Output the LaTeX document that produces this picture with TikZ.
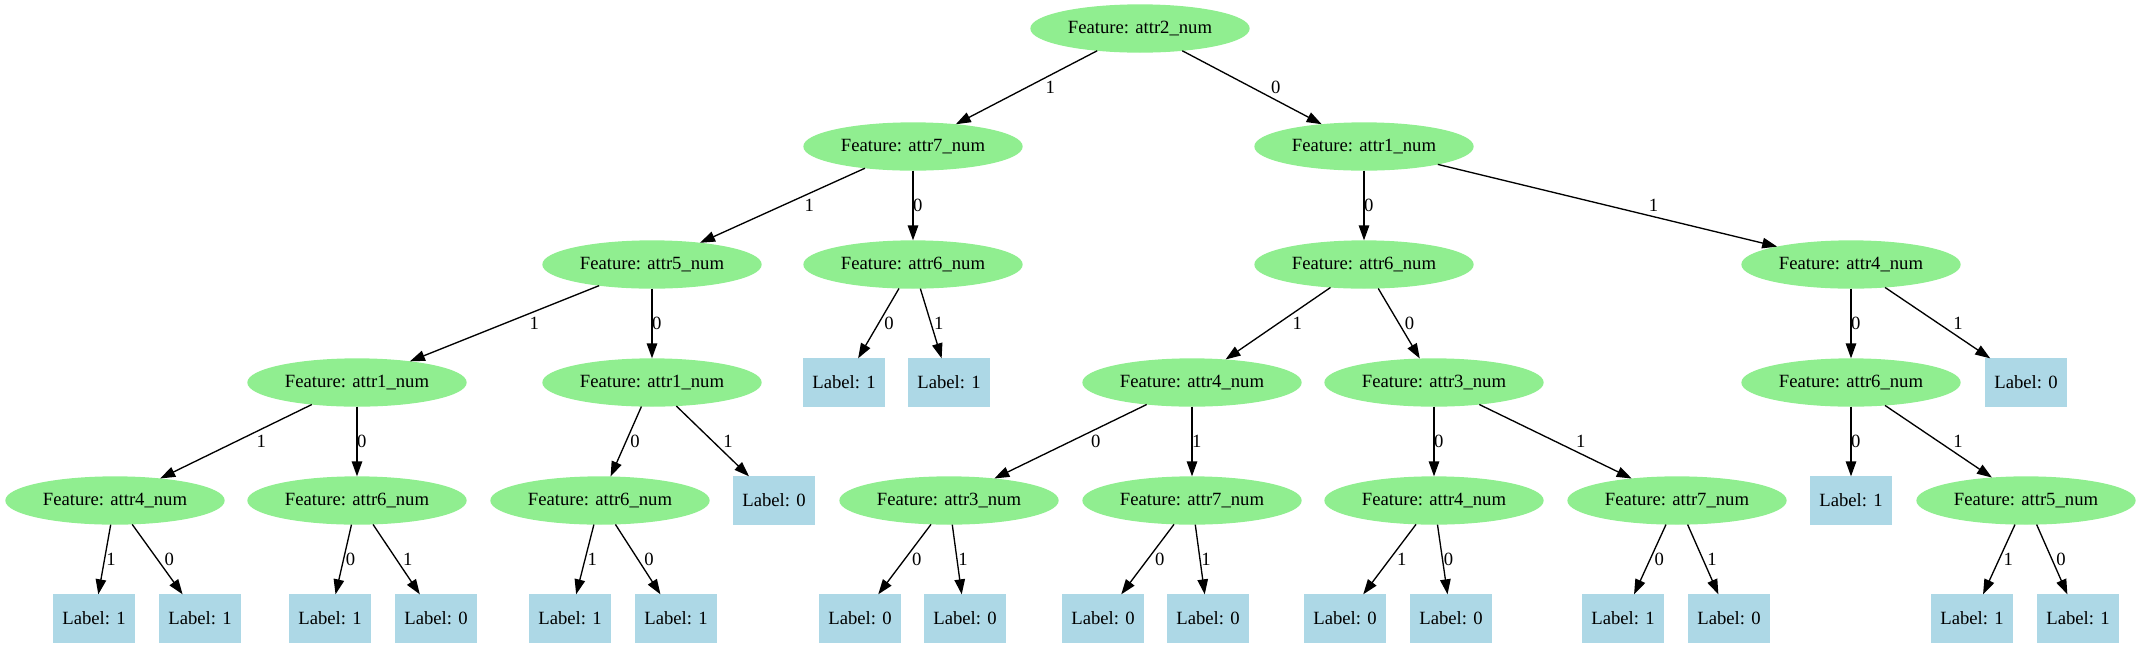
\documentclass[tikz,border=0pt]{standalone}
\usepackage{fontspec}
\setmainfont{Liberation Serif}
\usetikzlibrary{shapes.geometric,arrows.meta,calc}
\definecolor{lgreen}{HTML}{90EE90}
\definecolor{lblue}{HTML}{ADD8E6}
\tikzset{
  feat/.style={ellipse, fill=lgreen, draw=lgreen, line width=1.33pt, minimum width=218pt, minimum height=47pt, inner sep=0pt, font=\fontsize{18.67}{22}\selectfont},
  leaf/.style={rectangle, fill=lblue, draw=lblue, line width=1.33pt, minimum width=81.5pt, minimum height=47pt, inner sep=0pt, font=\fontsize{18.67}{22}\selectfont},
  edge/.style={draw=black, line width=1.33pt, -{Triangle[length=15pt,width=10.5pt]}},
  elab/.style={inner sep=0pt, font=\fontsize{18.67}{22}\selectfont},
}
\newcommand\edgeL[5]{%
  \draw[edge] (#1) -- (#2);
  \node[elab, xshift=#4pt] (#5) at ($(#1)!0.5!(#2)$) {#3};}
\begin{document}
\begin{tikzpicture}[x=1pt,y=-1pt]
\useasboundingbox (0,0) rectangle (2141,649);
% level 0
\node[feat] (R) at (1140,28.5) {Feature: attr2\_num};
% level 1
\node[feat] (A) at (913,146.5) {Feature: attr7\_num};
\node[feat] (B) at (1364,146.5) {Feature: attr1\_num};
% level 2
\node[feat] (C) at (652,264.5) {Feature: attr5\_num};
\node[feat] (D) at (913,264.5) {Feature: attr6\_num};
\node[feat] (E) at (1364,264.5) {Feature: attr6\_num};
\node[feat] (F) at (1851,264.5) {Feature: attr4\_num};
% level 3
\node[feat] (G) at (357,382.5) {Feature: attr1\_num};
\node[feat] (H) at (652,382.5) {Feature: attr1\_num};
\node[leaf] (I) at (844,382.5) {Label: 1};
\node[leaf] (J) at (949,382.5) {Label: 1};
\node[feat] (K) at (1192,382.5) {Feature: attr4\_num};
\node[feat] (L) at (1434,382.5) {Feature: attr3\_num};
\node[feat] (M) at (1851,382.5) {Feature: attr6\_num};
\node[leaf] (N) at (2026,382.5) {Label: 0};
% level 4
\node[feat] (O) at (115,500.5) {Feature: attr4\_num};
\node[feat] (P) at (357,500.5) {Feature: attr6\_num};
\node[feat] (Q) at (600,500.5) {Feature: attr6\_num};
\node[leaf] (Rl) at (774,500.5) {Label: 0};
\node[feat] (S) at (949,500.5) {Feature: attr3\_num};
\node[feat] (T) at (1192,500.5) {Feature: attr7\_num};
\node[feat] (U) at (1434,500.5) {Feature: attr4\_num};
\node[feat] (V) at (1677,500.5) {Feature: attr7\_num};
\node[leaf] (W) at (1851,500.5) {Label: 1};
\node[feat] (X) at (2026,500.5) {Feature: attr5\_num};
% level 5
\node[leaf] (l1) at (94,618.5) {Label: 1};
\node[leaf] (l2) at (200,618.5) {Label: 1};
\node[leaf] (l3) at (330,618.5) {Label: 1};
\node[leaf] (l4) at (436,618.5) {Label: 0};
\node[leaf] (l5) at (570,618.5) {Label: 1};
\node[leaf] (l6) at (676,618.5) {Label: 1};
\node[leaf] (l7) at (860,618.5) {Label: 0};
\node[leaf] (l8) at (965,618.5) {Label: 0};
\node[leaf] (l9) at (1103,618.5) {Label: 0};
\node[leaf] (l10) at (1208,618.5) {Label: 0};
\node[leaf] (l11) at (1345,618.5) {Label: 0};
\node[leaf] (l12) at (1451,618.5) {Label: 0};
\node[leaf] (l13) at (1623,618.5) {Label: 1};
\node[leaf] (l14) at (1729,618.5) {Label: 0};
\node[leaf] (l15) at (1972,618.5) {Label: 1};
\node[leaf] (l16) at (2078,618.5) {Label: 1};
% edges
\edgeL{R}{A}{1}{23.9}{e1}
\edgeL{R}{B}{0}{23.7}{e2}
\edgeL{A}{C}{1}{26.8}{e3}
\edgeL{A}{D}{0}{4.7}{e4}
\edgeL{B}{E}{0}{4.7}{e5}
\edgeL{B}{F}{1}{46}{e6}
\edgeL{C}{G}{1}{29.7}{e7}
\edgeL{C}{H}{0}{4.7}{e8}
\edgeL{D}{I}{0}{10.5}{e9}
\edgeL{D}{J}{1}{7.7}{e10}
\edgeL{E}{K}{1}{19.3}{e11}
\edgeL{E}{L}{0}{10.6}{e12}
\edgeL{F}{M}{0}{4.7}{e13}
\edgeL{F}{N}{1}{19.5}{e14}
\edgeL{G}{O}{1}{25.2}{e15}
\edgeL{G}{P}{0}{4.7}{e16}
\edgeL{H}{Q}{0}{9.1}{e17}
\edgeL{H}{Rl}{1}{15.0}{e18}
\edgeL{K}{S}{0}{25.3}{e19}
\edgeL{K}{T}{1}{4.7}{e20}
\edgeL{L}{U}{0}{4.7}{e21}
\edgeL{L}{V}{1}{25.3}{e22}
\edgeL{M}{W}{0}{4.7}{e23}
\edgeL{M}{X}{1}{19.5}{e24}
\edgeL{O}{l1}{1}{6.5}{e25}
\edgeL{O}{l2}{0}{11.9}{e26}
\edgeL{P}{l3}{0}{7.0}{e27}
\edgeL{P}{l4}{1}{11.4}{e28}
\edgeL{Q}{l5}{1}{7.2}{e29}
\edgeL{Q}{l6}{0}{11.1}{e30}
\edgeL{S}{l7}{0}{12.2}{e31}
\edgeL{S}{l8}{1}{6.1}{e32}
\edgeL{T}{l9}{0}{12.2}{e33}
\edgeL{T}{l10}{1}{6.1}{e34}
\edgeL{U}{l11}{1}{12.2}{e35}
\edgeL{U}{l12}{0}{6.1}{e36}
\edgeL{V}{l13}{0}{9.3}{e37}
\edgeL{V}{l14}{1}{9.1}{e38}
\edgeL{X}{l15}{1}{9.3}{e39}
\edgeL{X}{l16}{0}{9.1}{e40}
\end{tikzpicture}
\end{document}
